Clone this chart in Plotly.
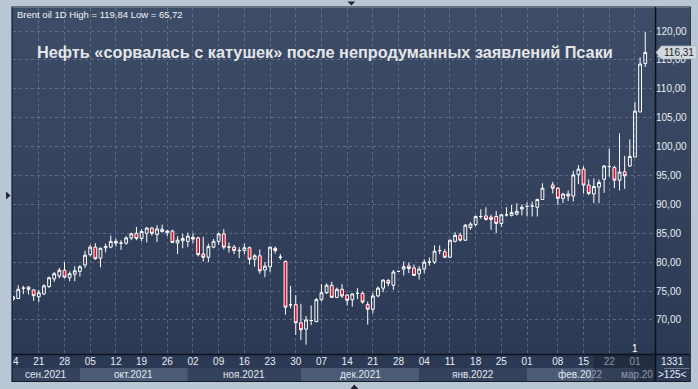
import plotly.graph_objects as go
import pandas as pd

# ---------------- data ----------------
opens = [73.6, 73.7, 75.5, 75.7, 75.2, 74.0, 74.5, 75.8, 77.1, 77.6,
         78.6, 77.3, 77.9, 78.4, 79.5, 81.3, 82.6, 80.7, 82.5, 82.6,
         83.6, 83.3, 83.3, 84.2, 85.0, 84.1, 85.0, 85.9, 84.8, 85.3,
         85.1, 85.4, 83.3, 83.7, 83.6, 84.3, 84.2, 81.4, 80.85, 82.6,
         83.6, 84.9, 82.6, 82.6, 82.0, 82.0, 82.5, 80.5, 81.1, 78.65,
         79.2, 82.4, 80.85, 80.1, 72.6, 72.65, 69.5, 68.4, 69.9, 69.7,
         73.5, 74.7, 76.0, 73.9, 75.3, 74.3, 73.5, 74.6, 74.6, 72.65,
         71.85, 74.15, 75.5, 76.8, 76.0, 78.4, 78.8, 79.35, 79.0, 78.0,
         78.8, 80.0, 80.0, 82.0, 81.8, 80.85, 83.6, 84.65, 83.8, 86.0,
         86.5, 87.9, 88.0, 87.8, 87.9, 86.7, 88.2, 88.1, 88.3, 89.2,
         89.65, 89.7, 89.5, 90.85, None, 93.35, 92.8, 91.05, 91.8, 91.45,
         95.15, 96.1, 93.35, 91.8, 93.0, 94.35, 96.55, 96.4, 94.2, 95.65,
         96.65, 98.2, 106.0, 114.4]
highs = [74.2, 76.0, 75.9, 75.8, 75.3, 75.2, 76.2, 77.5, 78.3, 79.0,
         80.0, 78.4, 79.3, 79.5, 82.0, 83.0, 83.3, 82.5, 83.2, 84.6,
         84.1, 83.8, 84.5, 85.1, 86.1, 85.7, 86.1, 86.1, 86.4, 86.5,
         85.6, 85.6, 84.5, 84.9, 85.1, 85.0, 84.4, 84.4, 83.2, 84.0,
         85.1, 85.7, 83.4, 83.0, 82.6, 83.2, 82.7, 81.4, 82.2, 80.0,
         82.7, 82.7, 81.4, 80.3, 75.9, 74.3, 72.8, 70.7, 72.5, 73.8,
         76.2, 76.3, 76.6, 75.6, 76.2, 74.5, 74.6, 75.5, 74.9, 73.2,
         74.7, 75.8, 77.0, 77.1, 78.65, 78.5, 80.1, 79.95, 79.6, 79.3,
         80.5, 80.8, 82.9, 82.9, 82.3, 83.9, 85.2, 85.1, 86.6, 86.9,
         88.1, 89.15, 89.5, 88.2, 88.85, 88.3, 89.5, 89.9, 90.2, 90.0,
         90.35, 90.5, 91.0, 93.65, None, 93.9, 93.0, 92.0, 92.4, 95.8,
         96.8, 96.6, 94.35, 94.5, 94.3, 96.8, 99.65, 96.7, 102.3, 98.4,
         101.25, 107.7, 115.45, 119.84]
lows = [73.3, 73.6, 74.5, 74.4, 73.3, 73.1, 74.3, 75.5, 76.6, 77.2,
        77.2, 76.7, 76.7, 77.5, 79.0, 81.0, 80.4, 79.1, 81.7, 82.4,
        82.7, 82.1, 83.0, 83.8, 83.8, 83.6, 83.4, 84.6, 83.5, 85.1,
        84.5, 83.3, 81.4, 82.4, 82.6, 83.3, 81.0, 80.1, 80.0, 82.4,
        83.0, 82.2, 81.65, 81.4, 80.7, 81.4, 79.6, 79.2, 78.0, 77.4,
        78.3, 81.5, 80.4, 70.9, 72.0, 67.4, 66.5, 65.72, 69.1, 69.6,
        73.2, 74.5, 73.8, 73.8, 73.8, 72.5, 72.3, 73.6, 72.8, 69.2,
        71.1, 73.9, 74.8, 75.8, 75.2, 78.3, 77.7, 78.1, 77.6, 77.0,
        78.1, 79.4, 79.7, 81.4, 80.7, 80.7, 83.4, 83.6, 83.7, 85.6,
        86.2, 87.5, 87.2, 85.6, 85.0, 86.1, 87.9, 87.9, 88.1, 88.1,
        87.9, 87.9, 87.9, 90.8, None, 91.9, 89.9, 90.2, 90.6, 90.5,
        93.5, 91.9, 91.6, 90.2, 90.2, 92.0, 94.8, 92.8, 92.4, 92.7,
        96.5, 98.2, 106.0, 113.8]
closes = [74.0, 75.3, 75.5, 75.3, 74.2, 74.7, 75.9, 77.3, 78.0, 78.6,
          77.4, 78.0, 78.5, 79.2, 81.2, 82.6, 80.6, 82.4, 82.7, 83.6,
          83.3, 83.3, 84.2, 84.9, 84.1, 85.3, 85.9, 85.0, 85.75, 85.7,
          85.4, 83.4, 83.8, 84.1, 84.5, 84.0, 81.3, 80.85, 82.7, 83.6,
          84.9, 82.6, 82.6, 82.0, 82.0, 82.5, 80.5, 81.1, 78.5, 79.3,
          82.6, 82.0, 80.85, 72.2, 72.6, 69.5, 68.3, 70.0, 69.9, 73.5,
          74.7, 76.0, 73.9, 75.3, 74.15, 73.4, 74.5, 74.6, 73.1, 71.85,
          74.15, 75.5, 76.9, 76.35, 78.3, 78.4, 79.2, 78.9, 77.7, 78.8,
          80.0, 80.0, 81.9, 82.0, 80.85, 83.8, 84.65, 83.8, 86.4, 86.6,
          87.9, 87.9, 87.4, 87.4, 86.7, 88.2, 88.2, 88.6, 88.8, 89.5,
          89.65, 89.7, 90.85, 92.8, None, 92.8, 91.05, 91.8, 91.45, 95.1,
          96.1, 93.35, 91.9, 93.1, 93.8, 96.65, 96.55, 94.2, 95.6, 94.95,
          98.3, 106.15, 114.3, 116.31]

# one bar slot per trading day, plus the extra (empty) weekend slot seen in February
slot_dates = list(pd.bdate_range("2021-09-14", "2022-03-03").strftime("%Y-%m-%d"))
slot_dates.insert(slot_dates.index("2022-02-07"), "2022-02-06")

week_tick_dates = ["2021-09-14", "2021-09-21", "2021-09-28", "2021-10-05", "2021-10-12",
                   "2021-10-19", "2021-10-26", "2021-11-02", "2021-11-09", "2021-11-16",
                   "2021-11-23", "2021-11-30", "2021-12-07", "2021-12-14", "2021-12-21",
                   "2021-12-28", "2022-01-04", "2022-01-11", "2022-01-18", "2022-01-25",
                   "2022-02-01", "2022-02-08", "2022-02-15", "2022-02-22", "2022-03-01"]
week_tick_labels = ["14", "21", "28", "05", "12", "19", "26", "02", "09", "16", "23", "30",
                    "07", "14", "21", "28", "04", "11", "18", "25", "01", "08", "15", "22", "01"]
month_start_dates = ["2021-09-14", "2021-10-01", "2021-11-01", "2021-12-01",
                     "2022-01-03", "2022-02-01", "2022-03-01"]
month_labels = ["сен.2021", "окт.2021", "ноя.2021", "дек.2021", "янв.2022",
                "фев.20<span style='color:#8f9ab0'>22</span>",
                "<span style='color:#8f9ab0'>мар.20</span>"]

price_ticks = [70, 75, 80, 85, 90, 95, 100, 105, 110, 115, 120]
price_tick_labels = ["70,00", "75,00", "80,00", "85,00", "90,00", "95,00",
                     "100,00", "105,00", "110,00", "115,00", "120,00"]

title_text = "Нефть «сорвалась с катушек» после непродуманных заявлений Псаки"
info_text = "Brent oil 1D High = 119,84 Low = 65,72"
last_price = 116.31
last_price_label = "116,31"
# ---------------------------------------------------------------

W, H = 698, 389
L, R, T, B = 8, 655, 8, 354
XR = [-0.02, 124.9]
YR = [64.1, 124.0]
FONT = "Liberation Sans, Arial, sans-serif"


def px(x):
    return (x - L) / (R - L)


def py(y):
    return (B - y) / (B - T)


idx = list(range(len(slot_dates)))
tickvals = [slot_dates.index(d) for d in week_tick_dates]
month_idx = [slot_dates.index(d) for d in month_start_dates]

fig = go.Figure()
fig.add_trace(go.Candlestick(
    x=idx, open=opens, high=highs, low=lows, close=closes,
    increasing=dict(line=dict(color="#ffffff", width=1), fillcolor="rgba(0,0,0,0)"),
    decreasing=dict(line=dict(color="#ffffff", width=1), fillcolor="#e3102c"),
    whiskerwidth=0, hoverinfo="skip",
))

shapes = []
# gradient background of plot + right panel
N = 40
top_c = (61, 76, 103)
bot_c = (44, 57, 84)
for k in range(N):
    t = (k + 0.5) / N
    c = tuple(int(round(top_c[i] + (bot_c[i] - top_c[i]) * t)) for i in range(3))
    y1 = 1 - k / N
    y0 = 1 - (k + 1) / N - 0.003
    shapes.append(dict(type="rect", xref="paper", yref="paper", x0=px(7), x1=px(690),
                       y0=max(y0, 0), y1=y1, fillcolor="rgb(%d,%d,%d)" % c,
                       line=dict(width=0), layer="below"))
# bottom axis strip
shapes.append(dict(type="rect", xref="paper", yref="paper", x0=px(7), x1=px(690),
                   y0=py(381), y1=py(354), fillcolor="#2c3955", line=dict(width=0), layer="below"))
# month bands
band_starts = [XR[0] - 5] + month_idx[1:]
band_edges = month_idx[1:] + [XR[1] + 5]
for k in range(len(month_labels)):
    col = "#35425d" if k % 2 == 0 else "#4b5a75"
    shapes.append(dict(type="rect", xref="x", yref="paper", x0=band_starts[k], x1=band_edges[k],
                       y0=py(381), y1=py(368), fillcolor=col, line=dict(width=0), layer="below"))
# overlay box at the right end of time axis
shapes.append(dict(type="rect", xref="paper", yref="paper", x0=px(593), x1=px(655),
                   y0=py(381), y1=py(354), fillcolor="rgba(22,30,46,0.45)",
                   line=dict(width=0), layer="above"))
# right-bottom info box
shapes.append(dict(type="rect", xref="paper", yref="paper", x0=px(655), x1=px(690),
                   y0=py(381), y1=py(354), fillcolor="#2c3955", line=dict(width=0), layer="above"))
shapes.append(dict(type="line", xref="paper", yref="paper", x0=px(664), x1=px(690),
                   y0=py(368.5), y1=py(368.5), line=dict(color="#6b7890", width=1), layer="above"))
# frame lines
shapes.append(dict(type="line", xref="paper", yref="paper", x0=px(7), x1=px(690),
                   y0=py(354.5), y1=py(354.5), line=dict(color="#0d1118", width=1.5), layer="above"))
shapes.append(dict(type="line", xref="paper", yref="paper", x0=px(655.5), x1=px(655.5),
                   y0=py(381), y1=py(7), line=dict(color="#0d1118", width=1.5), layer="above"))
# outer light frame (covers anything spilling out)
frame = "#b9c6d6"
for (x0, x1, y0, y1) in [(0, 7, 0, H), (690.5, W, 0, H), (0, W, 0, 7), (0, W, 381.5, H)]:
    shapes.append(dict(type="rect", xref="paper", yref="paper", x0=px(x0), x1=px(x1),
                       y0=py(y1), y1=py(y0), fillcolor=frame, line=dict(width=0), layer="above"))
shapes.append(dict(type="rect", xref="paper", yref="paper", x0=px(7), x1=px(690.5),
                   y0=py(381.5), y1=py(7), line=dict(color="#151b27", width=1.2), layer="above"))


def tri(points):
    path = "M " + " L ".join("%f,%f" % (px(a), py(b)) for a, b in points) + " Z"
    return dict(type="path", xref="paper", yref="paper", path=path,
                fillcolor="#1f2533", line=dict(width=0), layer="above")


shapes.append(tri([(345, 1.5), (353, 1.5), (349, 5.5)]))
shapes.append(tri([(1, 191.5), (1, 199.5), (5.5, 195.5)]))
shapes.append(tri([(348, 389), (356, 389), (352, 384.5)]))

annotations = []
# price tag (paper x, data y)
ly = last_price
dy = (YR[1] - YR[0]) / (B - T)  # value per pixel
shapes.append(dict(type="path", xref="paper", yref="y",
                   path="M %f,%f L %f,%f L %f,%f L %f,%f L %f,%f Z" % (
                       px(656), ly, px(661.5), ly + 6.5 * dy, px(697), ly + 6.5 * dy,
                       px(697), ly - 6.5 * dy, px(661.5), ly - 6.5 * dy),
                   fillcolor="#d3d8df", line=dict(color="#aab2bd", width=0.6), layer="above"))
annotations.append(dict(xref="paper", yref="y", x=px(679), y=ly, text=last_price_label,
                        showarrow=False, font=dict(family=FONT, size=10, color="#1b1f27"),
                        xanchor="center", yanchor="middle"))

annotations.append(dict(xref="paper", yref="paper", x=px(322), y=py(52), text="<b>" + title_text + "</b>",
                        showarrow=False, font=dict(family=FONT, size=16.3, color="#e4e6ea"),
                        xanchor="center", yanchor="middle"))
annotations.append(dict(xref="paper", yref="paper", x=px(10), y=py(15), text=info_text,
                        showarrow=False, font=dict(family=FONT, size=9.5, color="#f2f4f8"),
                        xanchor="left", yanchor="middle"))
annotations.append(dict(xref="paper", yref="paper", x=px(672.5), y=py(361.5), text="1331",
                        showarrow=False, font=dict(family=FONT, size=10, color="#e8ecf2"),
                        xanchor="center", yanchor="middle"))
annotations.append(dict(xref="paper", yref="paper", x=px(672.5), y=py(374.5), text="&gt;125&lt;",
                        showarrow=False, font=dict(family=FONT, size=10, color="#e8ecf2"),
                        xanchor="center", yanchor="middle"))
annotations.append(dict(xref="x", yref="paper", x=month_idx[-1], y=py(348.5), text="1",
                        showarrow=False, font=dict(family=FONT, size=10, color="#ffffff"),
                        xanchor="center", yanchor="middle"))

# month labels centred in their bands
for k in range(len(month_labels)):
    a = max(band_starts[k], XR[0])
    b = min(band_edges[k], XR[1])
    if k == len(month_labels) - 1:
        annotations.append(dict(xref="paper", yref="paper", x=1.0, y=py(374.5), text=month_labels[k],
                                showarrow=False, font=dict(family=FONT, size=10, color="#e3e8f0"),
                                xanchor="right", yanchor="middle"))
    else:
        annotations.append(dict(xref="x", yref="paper", x=(a + b) / 2, y=py(374.5), text=month_labels[k],
                                showarrow=False, font=dict(family=FONT, size=10, color="#e3e8f0"),
                                xanchor="center", yanchor="middle"))

gridc = "rgba(125,140,165,0.55)"
fig.update_layout(
    width=W, height=H, margin=dict(l=L, r=W - R, t=T, b=H - B),
    paper_bgcolor=frame, plot_bgcolor="#354461", showlegend=False,
    boxgap=0.22,
    shapes=shapes, annotations=annotations,
    xaxis=dict(range=XR, tickvals=tickvals, ticktext=week_tick_labels, showgrid=True,
               gridcolor=gridc, griddash="3px,3px", gridwidth=1, zeroline=False, showline=False,
               ticks="", tickfont=dict(family=FONT, size=10, color="#e8ecf2"),
               rangeslider=dict(visible=False), fixedrange=True),
    yaxis=dict(range=YR, side="right", tickvals=price_ticks, ticktext=price_tick_labels,
               showgrid=True, gridcolor=gridc, griddash="3px,3px", gridwidth=1, zeroline=False,
               showline=False, ticks="", tickfont=dict(family=FONT, size=10, color="#e8ecf2"),
               fixedrange=True),
)
fig.write_html("out.html", config={"displayModeBar": False})
